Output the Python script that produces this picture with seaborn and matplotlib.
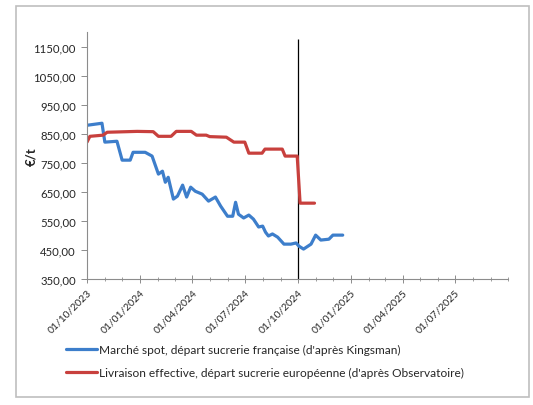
import pandas as pd
import matplotlib.pyplot as plt
import matplotlib.dates as mdates
from matplotlib.patches import Rectangle
import seaborn as sns

# ── Data ───────────────────────────────────────────────────────────────────
spot_dates = [
    "2023-10-01", "2023-10-27", "2023-11-01", "2023-11-22", "2023-12-01",
    "2023-12-15", "2023-12-20", "2024-01-10", "2024-01-22", "2024-02-02",
    "2024-02-09", "2024-02-14", "2024-02-19", "2024-02-28", "2024-03-06",
    "2024-03-15", "2024-03-22", "2024-03-29", "2024-04-06", "2024-04-18",
    "2024-04-29", "2024-05-11", "2024-05-20", "2024-06-01", "2024-06-10",
    "2024-06-15", "2024-06-20", "2024-06-29", "2024-07-08", "2024-07-16",
    "2024-07-25", "2024-08-01", "2024-08-06", "2024-08-11", "2024-08-18",
    "2024-08-27", "2024-09-07", "2024-09-19", "2024-09-28", "2024-10-03",
    "2024-10-11", "2024-10-24", "2024-11-01", "2024-11-10", "2024-11-24",
    "2024-12-01", "2024-12-18",
]
spot_values = [
    879, 886, 821, 824, 759, 759, 786, 786, 773, 711,
    721, 683, 700, 625, 635, 673, 632, 666, 652, 642,
    618, 632, 601, 566, 566, 614, 573, 560, 570, 556,
    529, 532, 511, 498, 505, 494, 470, 470, 474, 463,
    453, 470, 501, 484, 487, 501, 501,
]

deliv_dates = [
    "2023-10-01", "2023-10-06", "2023-10-29", "2023-11-05", "2023-12-27",
    "2024-01-24", "2024-02-02", "2024-02-24", "2024-03-04", "2024-03-30",
    "2024-04-08", "2024-04-25", "2024-05-01", "2024-05-30", "2024-06-12",
    "2024-07-01", "2024-07-08", "2024-07-31", "2024-08-05", "2024-09-04",
    "2024-09-09", "2024-09-30", "2024-10-05", "2024-10-30",
]
deliv_values = [
    821, 841, 845, 855, 858, 857, 841, 841, 858, 858,
    845, 845, 840, 838, 821, 821, 783, 783, 797, 797,
    773, 773, 611, 611,
]

marker_date = "2024-10-01"
marker_range = [350, 1175]

spot_label = "Marché spot, départ sucrerie française (d'après Kingsman)"
deliv_label = "Livraison effective, départ sucrerie européenne (d'après Observatoire)"

y_ticks = [350, 450, 550, 650, 750, 850, 950, 1050, 1150]
x_ticks = ["2023-10-01", "2024-01-01", "2024-04-01", "2024-07-01",
           "2024-10-01", "2025-01-01", "2025-04-01", "2025-07-01"]

BLUE = "#3d7ecb"
RED = "#c8403d"
AXIS = "#8c8c8c"

df = pd.concat([
    pd.DataFrame({"date": pd.to_datetime(spot_dates), "value": spot_values,
                  "series": spot_label}),
    pd.DataFrame({"date": pd.to_datetime(deliv_dates), "value": deliv_values,
                  "series": deliv_label}),
])

sns.set_theme(style="white")
plt.rcParams["font.family"] = ["Lato", "DejaVu Sans"]

fig = plt.figure(figsize=(5.33, 4.06), dpi=100)
ax = fig.add_axes([87 / 533, 1 - 280 / 406, 421 / 533, 247 / 406])

sns.lineplot(data=df, x="date", y="value", hue="series",
             palette={spot_label: BLUE, deliv_label: RED},
             linewidth=2.3, ax=ax, sort=False)

ax.vlines(pd.Timestamp(marker_date), marker_range[0], marker_range[1],
          color="black", lw=0.9, zorder=1)

ax.set_ylim(350, 1200)
ax.set_xlim(pd.Timestamp("2023-10-01"), pd.Timestamp("2025-10-01"))
ax.set_yticks(y_ticks)
ax.set_yticklabels([f"{v:.2f}".replace(".", ",") for v in y_ticks], fontsize=8.2)
ax.set_xticks(pd.to_datetime(x_ticks))
ax.xaxis.set_major_formatter(mdates.DateFormatter("%d/%m/%Y"))
ax.xaxis.set_minor_locator(mdates.MonthLocator())
for lab in ax.get_xticklabels():
    lab.set_rotation(45)
    lab.set_ha("right")
    lab.set_rotation_mode("anchor")
    lab.set_fontsize(7.5)

ax.set_xlabel("")
ax.set_ylabel("€/t", fontsize=9.5, fontweight="bold", labelpad=-3)

for side in ["top", "right"]:
    ax.spines[side].set_visible(False)
for side in ["left", "bottom"]:
    ax.spines[side].set_color(AXIS)
    ax.spines[side].set_linewidth(0.8)
ax.tick_params(axis="y", which="major", direction="out", length=4,
               width=0.7, color=AXIS, pad=4, left=True)
ax.tick_params(axis="x", which="major", direction="inout", length=6,
               width=0.7, color=AXIS, pad=3, bottom=True)
ax.tick_params(axis="x", which="minor", direction="inout", length=3,
               width=0.6, color=AXIS, bottom=True)
ax.grid(False)

handles, labels = ax.get_legend_handles_labels()
ax.get_legend().remove()
fig.legend(handles, labels, loc="upper left",
           bbox_to_anchor=(66 / 533, 1 - 345 / 406),
           frameon=False, fontsize=8.6, handlelength=2.6, handletextpad=0.15,
           labelspacing=1.0, borderpad=0, borderaxespad=0)

# outer chart frame
fig.patches.append(Rectangle((16 / 533, 1 - 398 / 406), 513 / 533, 391 / 406,
                             transform=fig.transFigure, fill=False,
                             edgecolor="#bfbfbf", lw=1.2))

fig.savefig("out.png", dpi=100, facecolor="white")
